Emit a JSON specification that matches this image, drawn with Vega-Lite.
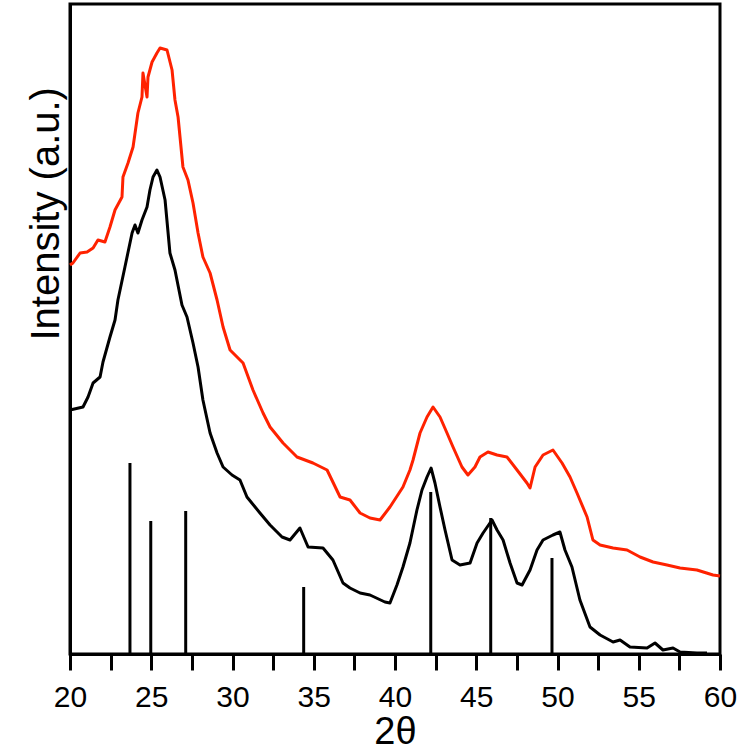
{
  "$schema": "https://vega.github.io/schema/vega-lite/v6.json",
  "autosize": "none",
  "width": 650,
  "height": 650,
  "padding": {"left": 70, "top": 4, "right": 30, "bottom": 99},
  "background": "white",
  "config": {
    "view": {"stroke": "black", "strokeWidth": 3},
    "font": "Liberation Sans"
  },
  "datasets": {
    "curves": [
      {"x": 20.00, "y": 244, "s": "black"},
      {"x": 20.80, "y": 247, "s": "black"},
      {"x": 21.11, "y": 257, "s": "black"},
      {"x": 21.42, "y": 271, "s": "black"},
      {"x": 21.85, "y": 277, "s": "black"},
      {"x": 22.03, "y": 292, "s": "black"},
      {"x": 22.46, "y": 317, "s": "black"},
      {"x": 22.77, "y": 334, "s": "black"},
      {"x": 22.95, "y": 354, "s": "black"},
      {"x": 23.08, "y": 364, "s": "black"},
      {"x": 23.38, "y": 387, "s": "black"},
      {"x": 23.82, "y": 421, "s": "black"},
      {"x": 24.00, "y": 429, "s": "black"},
      {"x": 24.18, "y": 421, "s": "black"},
      {"x": 24.43, "y": 434, "s": "black"},
      {"x": 24.74, "y": 447, "s": "black"},
      {"x": 24.92, "y": 464, "s": "black"},
      {"x": 25.11, "y": 477, "s": "black"},
      {"x": 25.35, "y": 484, "s": "black"},
      {"x": 25.54, "y": 477, "s": "black"},
      {"x": 25.85, "y": 454, "s": "black"},
      {"x": 26.15, "y": 401, "s": "black"},
      {"x": 26.46, "y": 384, "s": "black"},
      {"x": 26.89, "y": 349, "s": "black"},
      {"x": 27.20, "y": 337, "s": "black"},
      {"x": 27.57, "y": 311, "s": "black"},
      {"x": 27.88, "y": 287, "s": "black"},
      {"x": 28.18, "y": 254, "s": "black"},
      {"x": 28.62, "y": 221, "s": "black"},
      {"x": 29.05, "y": 201, "s": "black"},
      {"x": 29.42, "y": 187, "s": "black"},
      {"x": 29.97, "y": 179, "s": "black"},
      {"x": 30.46, "y": 174, "s": "black"},
      {"x": 30.89, "y": 157, "s": "black"},
      {"x": 31.69, "y": 141, "s": "black"},
      {"x": 32.31, "y": 129, "s": "black"},
      {"x": 33.05, "y": 117, "s": "black"},
      {"x": 33.54, "y": 114, "s": "black"},
      {"x": 34.15, "y": 126, "s": "black"},
      {"x": 34.65, "y": 107, "s": "black"},
      {"x": 35.57, "y": 106, "s": "black"},
      {"x": 36.18, "y": 94, "s": "black"},
      {"x": 36.80, "y": 71, "s": "black"},
      {"x": 37.23, "y": 66, "s": "black"},
      {"x": 37.85, "y": 61, "s": "black"},
      {"x": 38.46, "y": 59, "s": "black"},
      {"x": 39.38, "y": 52, "s": "black"},
      {"x": 39.69, "y": 51, "s": "black"},
      {"x": 40.12, "y": 69, "s": "black"},
      {"x": 40.49, "y": 87, "s": "black"},
      {"x": 40.92, "y": 111, "s": "black"},
      {"x": 41.35, "y": 144, "s": "black"},
      {"x": 41.66, "y": 164, "s": "black"},
      {"x": 41.97, "y": 177, "s": "black"},
      {"x": 42.22, "y": 186, "s": "black"},
      {"x": 42.46, "y": 171, "s": "black"},
      {"x": 42.77, "y": 147, "s": "black"},
      {"x": 43.08, "y": 124, "s": "black"},
      {"x": 43.51, "y": 94, "s": "black"},
      {"x": 44.00, "y": 89, "s": "black"},
      {"x": 44.62, "y": 91, "s": "black"},
      {"x": 45.05, "y": 111, "s": "black"},
      {"x": 45.42, "y": 121, "s": "black"},
      {"x": 45.97, "y": 134, "s": "black"},
      {"x": 46.28, "y": 124, "s": "black"},
      {"x": 46.65, "y": 114, "s": "black"},
      {"x": 47.08, "y": 91, "s": "black"},
      {"x": 47.51, "y": 71, "s": "black"},
      {"x": 47.82, "y": 69, "s": "black"},
      {"x": 48.31, "y": 84, "s": "black"},
      {"x": 48.74, "y": 104, "s": "black"},
      {"x": 49.11, "y": 114, "s": "black"},
      {"x": 49.72, "y": 119, "s": "black"},
      {"x": 50.15, "y": 122, "s": "black"},
      {"x": 50.46, "y": 104, "s": "black"},
      {"x": 50.89, "y": 87, "s": "black"},
      {"x": 51.38, "y": 54, "s": "black"},
      {"x": 52.00, "y": 27, "s": "black"},
      {"x": 52.62, "y": 19, "s": "black"},
      {"x": 53.42, "y": 12, "s": "black"},
      {"x": 53.85, "y": 14, "s": "black"},
      {"x": 54.46, "y": 7, "s": "black"},
      {"x": 55.51, "y": 6, "s": "black"},
      {"x": 56.00, "y": 11, "s": "black"},
      {"x": 56.49, "y": 4, "s": "black"},
      {"x": 57.11, "y": 6, "s": "black"},
      {"x": 57.54, "y": 2, "s": "black"},
      {"x": 58.58, "y": 1, "s": "black"},
      {"x": 59.20, "y": 1, "s": "black"},
      {"x": 20.00, "y": 389, "s": "red"},
      {"x": 20.18, "y": 391, "s": "red"},
      {"x": 20.62, "y": 401, "s": "red"},
      {"x": 21.05, "y": 402, "s": "red"},
      {"x": 21.42, "y": 406, "s": "red"},
      {"x": 21.72, "y": 414, "s": "red"},
      {"x": 22.15, "y": 412, "s": "red"},
      {"x": 22.46, "y": 427, "s": "red"},
      {"x": 22.77, "y": 444, "s": "red"},
      {"x": 23.20, "y": 457, "s": "red"},
      {"x": 23.26, "y": 477, "s": "red"},
      {"x": 23.57, "y": 491, "s": "red"},
      {"x": 23.88, "y": 507, "s": "red"},
      {"x": 24.18, "y": 541, "s": "red"},
      {"x": 24.43, "y": 557, "s": "red"},
      {"x": 24.49, "y": 581, "s": "red"},
      {"x": 24.74, "y": 557, "s": "red"},
      {"x": 24.80, "y": 577, "s": "red"},
      {"x": 25.05, "y": 592, "s": "red"},
      {"x": 25.35, "y": 601, "s": "red"},
      {"x": 25.54, "y": 606, "s": "red"},
      {"x": 25.97, "y": 604, "s": "red"},
      {"x": 26.28, "y": 584, "s": "red"},
      {"x": 26.46, "y": 554, "s": "red"},
      {"x": 26.65, "y": 537, "s": "red"},
      {"x": 26.95, "y": 487, "s": "red"},
      {"x": 27.26, "y": 474, "s": "red"},
      {"x": 27.57, "y": 451, "s": "red"},
      {"x": 27.88, "y": 421, "s": "red"},
      {"x": 28.18, "y": 397, "s": "red"},
      {"x": 28.62, "y": 381, "s": "red"},
      {"x": 29.05, "y": 354, "s": "red"},
      {"x": 29.42, "y": 327, "s": "red"},
      {"x": 29.85, "y": 304, "s": "red"},
      {"x": 30.65, "y": 291, "s": "red"},
      {"x": 31.26, "y": 264, "s": "red"},
      {"x": 31.88, "y": 241, "s": "red"},
      {"x": 32.31, "y": 227, "s": "red"},
      {"x": 33.11, "y": 211, "s": "red"},
      {"x": 33.97, "y": 197, "s": "red"},
      {"x": 34.95, "y": 191, "s": "red"},
      {"x": 35.82, "y": 184, "s": "red"},
      {"x": 36.62, "y": 157, "s": "red"},
      {"x": 37.23, "y": 154, "s": "red"},
      {"x": 37.85, "y": 141, "s": "red"},
      {"x": 38.46, "y": 136, "s": "red"},
      {"x": 39.08, "y": 134, "s": "red"},
      {"x": 39.69, "y": 147, "s": "red"},
      {"x": 40.49, "y": 167, "s": "red"},
      {"x": 40.92, "y": 184, "s": "red"},
      {"x": 41.11, "y": 194, "s": "red"},
      {"x": 41.54, "y": 221, "s": "red"},
      {"x": 41.97, "y": 237, "s": "red"},
      {"x": 42.34, "y": 247, "s": "red"},
      {"x": 42.77, "y": 237, "s": "red"},
      {"x": 43.20, "y": 221, "s": "red"},
      {"x": 43.57, "y": 207, "s": "red"},
      {"x": 44.12, "y": 187, "s": "red"},
      {"x": 44.49, "y": 179, "s": "red"},
      {"x": 44.92, "y": 187, "s": "red"},
      {"x": 45.23, "y": 197, "s": "red"},
      {"x": 45.72, "y": 202, "s": "red"},
      {"x": 46.28, "y": 199, "s": "red"},
      {"x": 46.89, "y": 197, "s": "red"},
      {"x": 47.51, "y": 184, "s": "red"},
      {"x": 48.12, "y": 171, "s": "red"},
      {"x": 48.31, "y": 166, "s": "red"},
      {"x": 48.62, "y": 187, "s": "red"},
      {"x": 49.11, "y": 199, "s": "red"},
      {"x": 49.72, "y": 204, "s": "red"},
      {"x": 50.28, "y": 191, "s": "red"},
      {"x": 50.77, "y": 177, "s": "red"},
      {"x": 51.20, "y": 161, "s": "red"},
      {"x": 51.82, "y": 137, "s": "red"},
      {"x": 52.18, "y": 114, "s": "red"},
      {"x": 52.62, "y": 109, "s": "red"},
      {"x": 53.42, "y": 106, "s": "red"},
      {"x": 54.28, "y": 104, "s": "red"},
      {"x": 55.08, "y": 97, "s": "red"},
      {"x": 55.88, "y": 92, "s": "red"},
      {"x": 56.74, "y": 89, "s": "red"},
      {"x": 57.54, "y": 86, "s": "red"},
      {"x": 58.58, "y": 84, "s": "red"},
      {"x": 59.57, "y": 79, "s": "red"},
      {"x": 60.00, "y": 78, "s": "red"}
    ],
    "sticks": [
      {"x": 23.69, "h": 191},
      {"x": 24.97, "h": 133},
      {"x": 27.12, "h": 143},
      {"x": 34.38, "h": 67},
      {"x": 42.20, "h": 162},
      {"x": 45.89, "h": 136},
      {"x": 49.66, "h": 96}
    ]
  },
  "layer": [
    {
      "data": {"name": "sticks"},
      "mark": {"type": "rule", "color": "black", "strokeWidth": 3},
      "encoding": {
        "x": {"field": "x", "type": "quantitative"},
        "y": {"field": "h", "type": "quantitative"},
        "y2": {"datum": 0}
      }
    },
    {
      "data": {"name": "curves"},
      "mark": {"type": "line", "strokeWidth": 3, "strokeJoin": "round"},
      "encoding": {
        "x": {
          "field": "x",
          "type": "quantitative",
          "scale": {"domain": [20, 60], "nice": false, "zero": false},
          "axis": {
            "values": [20, 22.5, 25, 27.5, 30, 32.5, 35, 37.5, 40, 42.5, 45, 47.5, 50, 52.5, 55, 57.5, 60],
            "labelExpr": "datum.value % 5 === 0 ? datum.label : ''",
            "grid": false,
            "domainColor": "black",
            "domainWidth": 3,
            "tickColor": "black",
            "tickWidth": 3,
            "tickSize": 16,
            "labelFlush": false,
            "labelFontSize": 30,
            "labelColor": "black",
            "labelPadding": 12,
            "labelFont": "Liberation Sans",
            "title": "2θ",
            "titleFontSize": 38,
            "titleFontWeight": "normal",
            "titleColor": "black",
            "titleFont": "Liberation Sans",
            "titleBaseline": "alphabetic",
            "titleY": 89,
            "encode": {
              "ticks": {"update": {"y2": {"signal": "datum.value % 5 === 0 ? 16 : 8"}}}
            }
          }
        },
        "y": {
          "field": "y",
          "type": "quantitative",
          "scale": {"domain": [0, 650], "nice": false},
          "axis": {
            "labels": false,
            "ticks": false,
            "grid": false,
            "domainColor": "black",
            "domainWidth": 3,
            "title": "Intensity (a.u.)",
            "titleFontSize": 40,
            "titleFontWeight": "normal",
            "titleColor": "black",
            "titleFont": "Liberation Sans",
            "titleAngle": 270,
            "titleAlign": "left",
            "titleBaseline": "alphabetic",
            "titleX": -12,
            "titleY": 336
          }
        },
        "color": {
          "field": "s",
          "type": "nominal",
          "scale": {"domain": ["black", "red"], "range": ["#000000", "#ff2200"]},
          "legend": null
        }
      }
    }
  ]
}
